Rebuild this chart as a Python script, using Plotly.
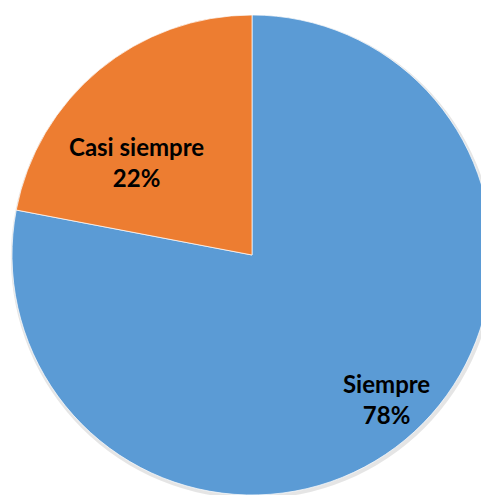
import plotly.graph_objects as go

labels = ["Siempre", "Casi siempre"]
values = [78, 22]
colors = ["#5B9BD5", "#ED7D31"]

W, H = 489, 495
OFF = 8  # page body margin in the browser

# pie centre and radius as seen in the window
cx, cy, r = 252 - OFF, 255 - OFF, 240

def dom(cx, cy, r):
    return dict(x=[(cx - r) / W, (cx + r) / W],
                y=[1 - (cy + r) / H, 1 - (cy - r) / H])

fig = go.Figure()

# faint drop shadow behind the pie
fig.add_trace(go.Pie(
    values=[sum(values)],
    marker=dict(colors=["rgba(0,0,0,0.10)"], line=dict(width=0)),
    textinfo="none", hoverinfo="skip", showlegend=False, sort=False,
    domain=dom(cx + 1, cy + 2, r + 2),
))

fig.add_trace(go.Pie(
    labels=labels,
    values=values,
    sort=False,
    direction="clockwise",
    rotation=0,
    marker=dict(colors=colors, line=dict(color="rgba(255,255,255,0.7)", width=1)),
    textinfo="none",
    hoverinfo="label+percent",
    showlegend=False,
    domain=dom(cx, cy, r),
))

# data labels placed like the original chart
label_pos = {"Siempre": (386 - OFF, 399 - OFF), "Casi siempre": (136 - OFF, 162 - OFF)}
for lab, val in zip(labels, values):
    px, py = label_pos[lab]
    fig.add_annotation(
        text=f"<b>{lab}<br>{val}%</b>",
        x=px / W, y=1 - py / H,
        xref="paper", yref="paper",
        xanchor="center", yanchor="middle",
        showarrow=False,
        font=dict(family="Lato", size=24, color="black"),
        align="center",
    )

fig.update_layout(
    width=W, height=H,
    margin=dict(l=0, r=0, t=0, b=0),
    paper_bgcolor="white",
    plot_bgcolor="white",
)

fig.write_html("out.html")
